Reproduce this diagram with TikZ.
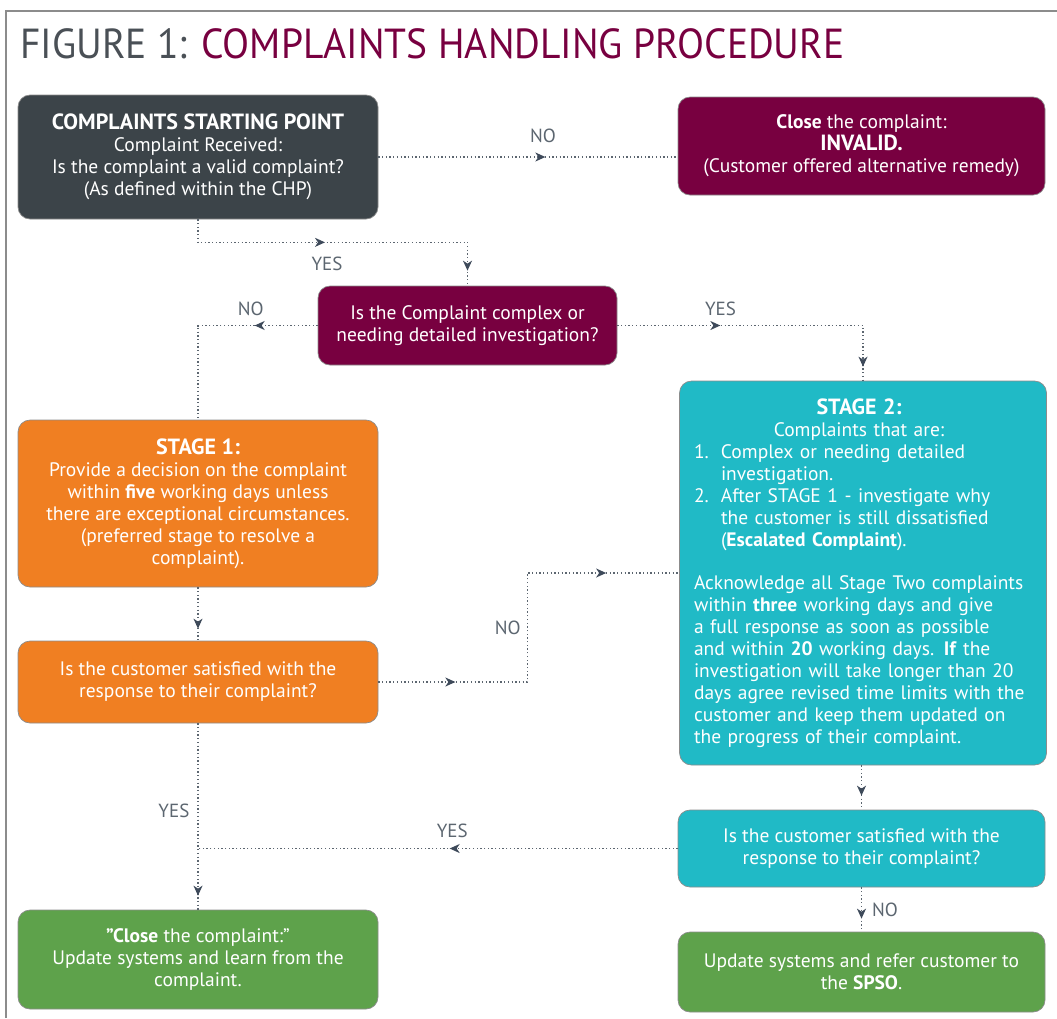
\documentclass[tikz,border=0pt]{standalone}
\usepackage{fontspec}
\setmainfont{PT Sans}
\usepackage{graphicx}
\usetikzlibrary{arrows.meta,decorations.markings}
\definecolor{cSlate}{HTML}{3C4449}
\definecolor{cMaroon}{HTML}{780040}
\definecolor{cOrange}{HTML}{F07F22}
\definecolor{cTeal}{HTML}{20BAC6}
\definecolor{cGreen}{HTML}{5EA24B}
\definecolor{cLine}{HTML}{5C6670}
\definecolor{cTip}{HTML}{3E4A5A}
\definecolor{cTitle}{HTML}{4A5056}
\definecolor{cFrame}{HTML}{8C8C8C}
\newcommand\headtext[1]{{\fontsize{22}{22}\selectfont\textbf{#1}}}

\begin{document}
\begin{tikzpicture}[x=1pt,y=-1pt,
    desc/.style={
      rectangle,
      rounded corners=12pt,
      draw=black!45,
      line width=0.7pt,
      text=white,
      align=center,
      inner sep=0pt,
      font=\fontsize{19.5}{22}\selectfont
    },
    flow/.style={draw=cLine, line width=1.3pt, dash pattern=on 1.3pt off 2.4pt},
    midtip/.style={postaction={decorate,
        decoration={markings, mark=at position #1 with {\arrow[cTip]{Stealth[length=10pt,width=9pt,inset=3pt]}}}}},
    lbl/.style={text=cLine, inner sep=0pt, font=\fontsize{19}{20}\selectfont}
  ]

  \useasboundingbox (0,0) rectangle (1057,1018);
  \draw[cFrame, line width=2pt] (6,1018) -- (6,11) -- (1057,11);

  \node[anchor=base west, inner sep=0pt, font=\fontsize{42}{42}\selectfont] (Title) at (20,58)
    {\scalebox{0.94}[1]{\textcolor{cTitle}{FIGURE 1:} \textcolor{cMaroon}{COMPLAINTS HANDLING PROCEDURE}}};

  \node[desc, fill=cSlate, minimum width=360, minimum height=124] (Start) at (198,157)
    {\headtext{COMPLAINTS STARTING POINT}\\Complaint Received:\\Is the complaint a valid complaint?\\(As defined within the CHP)};
  \node[desc, fill=cMaroon, minimum width=367, minimum height=98] (Invalid) at (861.5,146)
    {\textbf{Close} the complaint:\\\headtext{INVALID.}\\(Customer offered alternative remedy)};
  \node[desc, fill=cMaroon, minimum width=299, minimum height=79] (Complex) at (467.5,325.5)
    {Is the Complaint complex or\\needing detailed investigation?};
  \node[desc, fill=cOrange, minimum width=360, minimum height=167] (StageOne) at (198,503.5)
    {\headtext{STAGE 1:}\\Provide a decision on the complaint\\within \textbf{five} working days unless\\there are exceptional circumstances.\\(preferred stage to resolve a\\complaint).};
  \node[desc, fill=cOrange, minimum width=360, minimum height=82] (SatOne) at (198,682)
    {Is the customer satisfied with the\\response to their complaint?};
  \node[desc, fill=cTeal, minimum width=367, minimum height=384, text width=338pt, align=left] (StageTwo) at (863,573)
    {\makebox[\linewidth]{\headtext{STAGE 2:}\hspace{8pt}}\\
     \makebox[\linewidth]{Complaints that are:\hspace{8pt}}\\
     \makebox[27pt][l]{1.}Complex or needing detailed\\
     \hspace*{27pt}investigation.\\
     \makebox[27pt][l]{2.}After STAGE 1 - investigate why\\
     \hspace*{27pt}the customer is still dissatisfied\\
     \hspace*{27pt}(\textbf{Escalated Complaint}).\\[21pt]
     Acknowledge all Stage Two complaints\\
     within \textbf{three} working days and give\\
     a full response as soon as possible\\
     and within \textbf{20} working days. \textbf{If} the\\
     investigation will take longer than 20\\
     days agree revised time limits with the\\
     customer and keep them updated on\\
     the progress of their complaint.};
  \node[desc, fill=cTeal, minimum width=367, minimum height=77] (SatTwo) at (861.5,848.5)
    {Is the customer satisfied with the\\response to their complaint?};
  \node[desc, fill=cGreen, minimum width=360, minimum height=99] (CloseOk) at (198,959.5)
    {\textbf{\char34Close} the complaint:\char34\\Update systems and learn from the\\complaint.};
  \node[desc, fill=cGreen, minimum width=367, minimum height=80] (Spso) at (861.5,972)
    {Update systems and refer customer to\\the \textbf{SPSO}.};

  \draw[flow, midtip=167pt] (Start.east) -- (Start.east -| Invalid.west)
    node[lbl, pos=0.55, above=14pt] {NO};
  \draw[flow, midtip=150pt, midtip=-15pt] (Start.south) -- ++(0,23) coordinate (YesBend) -| (Complex.north);
  \node[lbl, below=14pt] at ([xshift=129pt]YesBend) {YES};
  \draw[flow, midtip=63pt] (Complex.west) -| (StageOne.north)
    node[lbl, pos=0.28, above=9pt] {NO};
  \draw[flow, midtip=103pt, midtip=-14pt] (Complex.east) -| (StageTwo.north)
    node[lbl, pos=0.21, above=9pt] {YES};
  \draw[flow, midtip=-12pt] (StageOne.south) -- (SatOne.north);
  \draw[flow, midtip=77pt, midtip=-73pt] (SatOne.east) -- ++(149,0) |- (StageTwo.west)
    node[lbl, pos=0.25, left=6pt] {NO};
  \draw[flow, midtip=-14pt] (SatOne.south) -- (CloseOk.north)
    node[lbl, pos=0.47, left=8pt] {YES};
  \draw[flow, midtip=228pt] (SatTwo.west) -- (SatTwo.west -| CloseOk.north)
    node[lbl, pos=0.47, above=10pt] {YES};
  \draw[flow, midtip=-14pt] (StageTwo.south -| SatTwo.north) -- (SatTwo.north);
  \draw[flow, midtip=-13pt] (SatTwo.south) -- (Spso.north)
    node[lbl, pos=0.5, right=10pt] {NO};

\end{tikzpicture}
\end{document}
